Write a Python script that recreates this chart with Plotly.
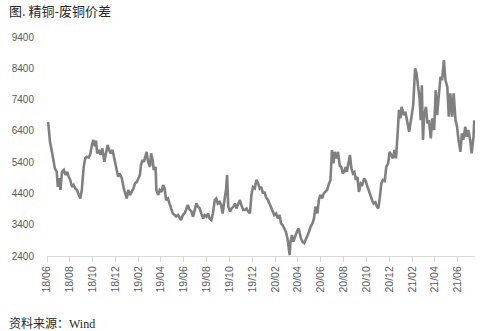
import plotly.graph_objects as go

# 精铜-废铜价差（元/吨），按年分段记录
dates_2018 = [
    "2018-06-04", "2018-06-09", "2018-06-15", "2018-06-22", "2018-06-27", "2018-06-30",
    "2018-07-03", "2018-07-07", "2018-07-11", "2018-07-16", "2018-07-20", "2018-07-25",
    "2018-07-29", "2018-08-02", "2018-08-07", "2018-08-11", "2018-08-16", "2018-08-20",
    "2018-08-25", "2018-08-29", "2018-09-02", "2018-09-07", "2018-09-11", "2018-09-15",
    "2018-09-20", "2018-09-24", "2018-09-29", "2018-10-03", "2018-10-07", "2018-10-10",
    "2018-10-13", "2018-10-18", "2018-10-22", "2018-10-27", "2018-11-01", "2018-11-05",
    "2018-11-10", "2018-11-14", "2018-11-18", "2018-11-23", "2018-11-27", "2018-12-03",
    "2018-12-08", "2018-12-12", "2018-12-18", "2018-12-23", "2018-12-27", "2018-12-31",
]
spread_2018 = [
    6690, 6050, 5680, 5200, 5090, 4610,
    4890, 4510, 5090, 5150, 4990, 5090,
    4930, 4830, 4610, 4670, 4560, 4510,
    4350, 4240, 4510, 5250, 5520, 5570,
    5550, 5630, 5950, 6110, 5900, 6090,
    5680, 5790, 5630, 5840, 5410, 5630,
    5950, 5790, 5680, 5790, 5570, 5310,
    4930, 5040, 4880, 4560, 4350, 4240,
]

dates_2019 = [
    "2019-01-04", "2019-01-09", "2019-01-13", "2019-01-18", "2019-01-22", "2019-01-27",
    "2019-01-31", "2019-02-04", "2019-02-07", "2019-02-11", "2019-02-15", "2019-02-19",
    "2019-02-22", "2019-02-26", "2019-03-03", "2019-03-06", "2019-03-10", "2019-03-13",
    "2019-03-18", "2019-03-20", "2019-03-25", "2019-03-29", "2019-04-03", "2019-04-07",
    "2019-04-11", "2019-04-15", "2019-04-20", "2019-04-24", "2019-04-29", "2019-05-03",
    "2019-05-08", "2019-05-12", "2019-05-17", "2019-05-21", "2019-05-25", "2019-05-30",
    "2019-06-03", "2019-06-07", "2019-06-12", "2019-06-16", "2019-06-22", "2019-06-26",
    "2019-07-01", "2019-07-05", "2019-07-09", "2019-07-14", "2019-07-18", "2019-07-23",
    "2019-07-27", "2019-08-01", "2019-08-05", "2019-08-09", "2019-08-14", "2019-08-18",
    "2019-08-23", "2019-08-27", "2019-08-31", "2019-09-05", "2019-09-09", "2019-09-13",
    "2019-09-18", "2019-09-22", "2019-09-25", "2019-09-28", "2019-10-03", "2019-10-07",
    "2019-10-12", "2019-10-16", "2019-10-20", "2019-10-25", "2019-10-29", "2019-11-02",
    "2019-11-07", "2019-11-11", "2019-11-16", "2019-11-20", "2019-11-25", "2019-11-29",
    "2019-12-03", "2019-12-08", "2019-12-12", "2019-12-17", "2019-12-21", "2019-12-25",
    "2019-12-30",
]
spread_2019 = [
    4510, 4350, 4450, 4560, 4720, 4770,
    4880, 4990, 5310, 5470, 5410, 5630,
    5730, 5410, 5250, 5680, 5470, 5150,
    5250, 4510, 4350, 4510, 4450, 4670,
    4560, 4190, 4240, 4080, 3870, 3760,
    3710, 3660, 3710, 3600, 3550, 3710,
    3760, 3870, 4030, 3900, 3820, 3660,
    3870, 4080, 3980, 3920, 3760, 3600,
    3710, 3660, 3760, 3600, 3550, 3760,
    4190, 4240, 4080, 4130, 4030, 3760,
    4190, 4510, 4990, 3980, 3820, 3920,
    3980, 4080, 3920, 4080, 4190, 4030,
    3870, 3870, 3920, 3820, 3760, 4350,
    4610, 4560, 4830, 4720, 4560, 4610,
    4400,
]

dates_2020 = [
    "2020-01-03", "2020-01-07", "2020-01-12", "2020-01-16", "2020-01-20", "2020-01-25",
    "2020-01-29", "2020-02-03", "2020-02-07", "2020-02-12", "2020-02-16", "2020-02-20",
    "2020-02-25", "2020-02-29", "2020-03-05", "2020-03-07", "2020-03-10", "2020-03-12",
    "2020-03-16", "2020-03-20", "2020-03-24", "2020-03-28", "2020-04-02", "2020-04-04",
    "2020-04-09", "2020-04-13", "2020-04-18", "2020-04-22", "2020-04-26", "2020-05-01",
    "2020-05-05", "2020-05-10", "2020-05-14", "2020-05-18", "2020-05-23", "2020-05-27",
    "2020-05-31", "2020-06-05", "2020-06-09", "2020-06-13", "2020-06-18", "2020-06-22",
    "2020-06-27", "2020-07-01", "2020-07-05", "2020-07-08", "2020-07-13", "2020-07-17",
    "2020-07-22", "2020-07-26", "2020-07-30", "2020-08-03", "2020-08-07", "2020-08-10",
    "2020-08-14", "2020-08-18", "2020-08-22", "2020-08-26", "2020-08-30", "2020-09-03",
    "2020-09-07", "2020-09-11", "2020-09-16", "2020-09-20", "2020-09-25", "2020-09-29",
    "2020-10-04", "2020-10-08", "2020-10-12", "2020-10-16", "2020-10-20", "2020-10-25",
    "2020-10-29", "2020-11-02", "2020-11-06", "2020-11-10", "2020-11-14", "2020-11-19",
    "2020-11-23", "2020-11-28", "2020-12-02", "2020-12-07", "2020-12-11", "2020-12-15",
    "2020-12-19", "2020-12-24", "2020-12-27", "2020-12-31",
]
spread_2020 = [
    4450, 4270, 4190, 4080, 3980, 3870,
    3710, 3760, 3600, 3710, 3440, 3390,
    3280, 3180, 2910, 2700, 2430, 2810,
    3070, 2860, 2970, 3130, 3280, 3230,
    2970, 2860, 2810, 2910, 3020, 3180,
    3340, 3440, 3600, 3980, 3760, 4190,
    4350, 4240, 4400, 4450, 4510, 4670,
    4830, 5790, 5360, 5730, 5520, 5730,
    5280, 5250, 5040, 5100, 5250, 5090,
    5310, 5630, 5200, 5040, 5080, 4830,
    4930, 4450, 4720, 4680, 4880, 4800,
    4610, 4450, 4300, 4190, 4080, 4120,
    3980, 3920, 4300, 4720, 4830, 4800,
    5250, 5360, 5730, 5630, 5520, 5790,
    5520, 6430, 7070, 6800,
]

dates_2021 = [
    "2021-01-03", "2021-01-09", "2021-01-13", "2021-01-19", "2021-01-23", "2021-01-28",
    "2021-02-03", "2021-02-08", "2021-02-12", "2021-02-16", "2021-02-20", "2021-02-23",
    "2021-02-26", "2021-03-01", "2021-03-04", "2021-03-09", "2021-03-13", "2021-03-17",
    "2021-03-22", "2021-03-26", "2021-03-31", "2021-04-04", "2021-04-08", "2021-04-12",
    "2021-04-17", "2021-04-21", "2021-04-26", "2021-04-30", "2021-05-05", "2021-05-09",
    "2021-05-13", "2021-05-18", "2021-05-22", "2021-05-27", "2021-05-31", "2021-06-04",
    "2021-06-09", "2021-06-13", "2021-06-17", "2021-06-22", "2021-06-26", "2021-06-30",
    "2021-07-05", "2021-07-09", "2021-07-14", "2021-07-16",
]
spread_2021 = [
    7170, 6900, 7010, 6640, 6370, 6740,
    7220, 8400, 8240, 7810, 7430, 6740,
    7860, 6110, 6850, 7170, 6640, 6740,
    6160, 6800, 6430, 7700, 6900, 7490,
    8130, 8020, 8660, 8020, 7810, 6850,
    7600, 6850, 7600, 6740, 6530, 6110,
    5730, 6320, 6110, 6530, 6210, 6430,
    6110, 5680, 6210, 6740,
]

dates = dates_2018 + dates_2019 + dates_2020 + dates_2021
spread = spread_2018 + spread_2019 + spread_2020 + spread_2021

y_ticks = [2400, 3400, 4400, 5400, 6400, 7400, 8400, 9400]

fig = go.Figure(
    go.Scatter(
        x=dates,
        y=spread,
        mode="lines",
        line=dict(color="#808080", width=2.6),
        hoverinfo="x+y",
    )
)

fig.update_layout(
    width=487,
    height=331,
    margin=dict(l=41, r=12, t=37, b=75),
    paper_bgcolor="white",
    plot_bgcolor="white",
    showlegend=False,
    font=dict(family="Liberation Sans, Arial, sans-serif", color="#595959"),
)

fig.update_xaxes(
    type="date",
    range=["2018-06-01", "2021-07-18"],
    tick0="2018-06-01",
    dtick="M2",
    tickformat="%y/%m",
    tickangle=-90,
    ticks="outside",
    ticklen=5,
    tickcolor="#d9d9d9",
    showline=True,
    linecolor="#d9d9d9",
    linewidth=1,
    showgrid=False,
    zeroline=False,
    tickfont=dict(size=10.5, color="#595959"),
)

fig.update_yaxes(
    range=[2400, 9400],
    tickvals=y_ticks,
    ticktext=[str(v) for v in y_ticks],
    showgrid=False,
    zeroline=False,
    showline=False,
    ticks="",
    ticklabelstandoff=12,
    tickfont=dict(size=10, color="#595959"),
)

fig.add_annotation(
    text="图. 精铜-废铜价差",
    xref="paper", yref="paper",
    x=0, y=1,
    xshift=-40, yshift=27,
    xanchor="left", yanchor="middle",
    showarrow=False,
    font=dict(family="Noto Sans CJK SC", size=13, color="#262626"),
)

fig.add_annotation(
    text="资料来源：<span style=\"font-family:'Liberation Serif'\">Wind</span>",
    xref="paper", yref="paper",
    x=0, y=0,
    xshift=-40, yshift=-66,
    xanchor="left", yanchor="middle",
    showarrow=False,
    font=dict(family="Noto Sans CJK SC", size=12, color="#262626"),
)

fig.write_html("out.html")
